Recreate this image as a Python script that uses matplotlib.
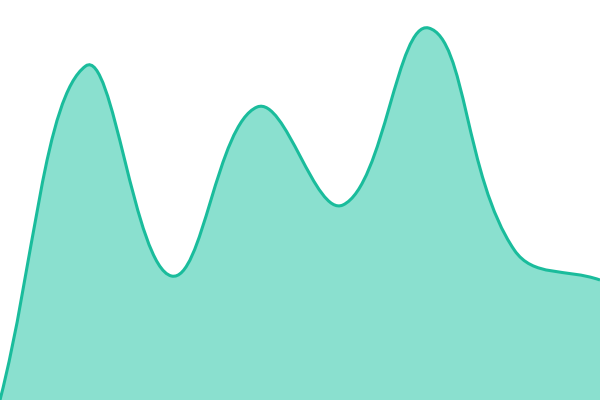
import numpy as np
import matplotlib
matplotlib.use("Agg")
import matplotlib.pyplot as plt
from matplotlib.path import Path
from matplotlib.patches import PathPatch

# data (x as index, y domain 0..400)
x_vals = [0, 1, 2, 3, 4, 5, 6, 7]
y_vals = [0, 334, 124, 293, 195, 372, 150, 120]

line_color = "#1abc9c"
fill_color = "#8ae0cf"
tension = 0.4


def spline_path(pts, t=tension):
    """chart.js style spline: control points scaled by neighbour distances"""
    pts = [np.asarray(p, dtype=float) for p in pts]
    n = len(pts)
    prev_ctrl, next_ctrl = [], []
    for i in range(n):
        cur = pts[i]
        prv = pts[i - 1] if i > 0 else cur
        nxt = pts[i + 1] if i < n - 1 else cur
        d01 = np.hypot(*(cur - prv))
        d12 = np.hypot(*(nxt - cur))
        s01 = d01 / (d01 + d12)
        s12 = d12 / (d01 + d12)
        prev_ctrl.append(cur - t * s01 * (nxt - prv))
        next_ctrl.append(cur + t * s12 * (nxt - prv))
    verts = [pts[0]]
    codes = [Path.MOVETO]
    for i in range(n - 1):
        verts += [next_ctrl[i], prev_ctrl[i + 1], pts[i + 1]]
        codes += [Path.CURVE4] * 3
    return np.array(verts), codes


fig = plt.figure(figsize=(6, 4), dpi=100)
ax = fig.add_axes([0, 0, 1, 1])
ax.set_xlim(0, 7)
ax.set_ylim(0, 400)
ax.axis("off")

# spline is built in pixel space, then mapped back to data coords
disp = ax.transData.transform(np.column_stack([x_vals, y_vals]))
verts_disp, codes = spline_path(disp)
verts = ax.transData.inverted().transform(verts_disp)

area_verts = np.vstack([verts, [[x_vals[-1], 0], [x_vals[0], 0], verts[0]]])
area_codes = codes + [Path.LINETO, Path.LINETO, Path.CLOSEPOLY]
ax.add_patch(PathPatch(Path(area_verts, area_codes), facecolor=fill_color, edgecolor="none"))
ax.add_patch(PathPatch(Path(verts, codes), facecolor="none", edgecolor=line_color, lw=2.2))

fig.savefig("out.png", dpi=100)
